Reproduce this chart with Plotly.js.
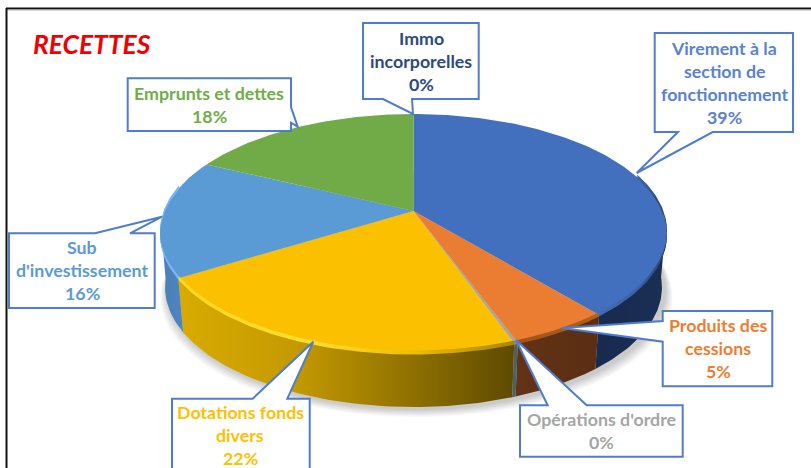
<!DOCTYPE html>
<html><head><meta charset="utf-8">
<script src="https://cdn.plot.ly/plotly-3.0.1.min.js"></script>
<style>html,body{margin:0;padding:0;background:#fff}#c{width:811px;height:468px}</style>
</head><body><div id="c"></div>
<script>
// ---- data ----
const categories = ["Virement à la section de fonctionnement","Produits des cessions","Opérations d'ordre","Dotations fonds divers","Sub d'investissement","Emprunts et dettes","Immo incorporelles"];
const values = [39.0, 5.4, 0.2, 21.6, 16.0, 17.8, 0.0];
const labelLines = [["Virement à la","section de","fonctionnement"],["Produits des","cessions"],["Opérations d'ordre"],["Dotations fonds","divers"],["Sub","d'investissement"],["Emprunts et dettes"],["Immo","incorporelles"]];
const titleText = "RECETTES";

// ---- styles ----
const topColors = ["#4270BE","#EA7D31","#A5A5A5","#FBC000","#5B9BD5","#70AB47","#264478"];
const textColors = ["#5A82CF","#ED7D31","#A5A5A5","#FFC000","#5B9BD5","#70AD47","#2B4A80"];
const sideStops = [
  [[0,"#182A4E"],[1,"#1B2E54"]],
  [[0,"#623316"],[1,"#5B2D12"]],
  [[0,"#4F5E68"],[1,"#4F5E68"]],
  [[0,"#D9AB00"],[0.35,"#C49A00"],[0.7,"#8E7000"],[1,"#5E4A00"]],
  [[0,"#4A7FB6"],[1,"#4F86C0"]],
  [[0,"#4A7330"],[1,"#4A7330"]],
  [[0,"#1E3560"],[1,"#1E3560"]]];
const bevelStops = [
  [[0,"#3F6AB4"],[0.6,"#3A62A8"],[1,"#24406E"]],
  [[0,"#A05418"],[1,"#B06020"]],
  [[0,"#8A8A8A"],[1,"#8A8A8A"]],
  [[0,"#FFD820"],[0.4,"#FFDD30"],[0.7,"#F2BC00"],[1,"#A98500"]],
  [[0,"#78B6F2"],[1,"#78B6F2"]],
  [[0,"#70AB47"],[1,"#70AB47"]],
  [[0,"#264478"],[1,"#264478"]]];

// ---- perspective pie geometry ----
const cx=413.5, cy=211, A=249, B=115.3, P=0.188, DEPTH=54, SHRINK=0.98;
function pt(deg,lvl,extra){
  const t=deg*Math.PI/180, s=Math.sin(t), c=Math.cos(t), w=1+P*c;
  let X=A*s/w, Y=-B*c/w;
  if(lvl){X*=SHRINK; Y+=DEPTH;}
  return [cx+X, cy+Y+(extra||0)];
}
function arc(a,b,lvl,extra){
  const out=[], n=Math.max(2,Math.ceil(Math.abs(b-a)));
  for(let i=0;i<=n;i++) out.push(pt(a+(b-a)*i/n,lvl,extra));
  return out;
}
function poly(pts,color,extra){
  return Object.assign({type:"scatter",mode:"lines",x:pts.map(p=>p[0]),y:pts.map(p=>p[1]),
    fill:"toself",fillcolor:color,line:{width:0,color:color},hoverinfo:"skip",showlegend:false},extra||{});
}
const total=values.reduce((a,b)=>a+b,0);
const traces=[];

// soft shadow below the pie
const full=arc(0,360,1);
for(let k=9;k>=1;k--){
  const pts=full.map(p=>[cx+(p[0]-cx)*(1+k*0.0035)+3, p[1]+k*0.9+2]);
  traces.push(poly(pts,"rgba(0,0,0,0.022)"));
}
// sides
let acc=0; const spans=[];
values.forEach(v=>{const s=acc/total*360; acc+=v; spans.push([s,acc/total*360]);});
spans.forEach((sp,i)=>{
  const a=Math.max(sp[0],96), b=Math.min(sp[1],264);
  if(b<=a) return;
  const pts=arc(a,b,0).concat(arc(b,a,1));
  pts.push(pts[0]);
  traces.push(poly(pts,topColors[i],{fillgradient:{type:"horizontal",colorscale:sideStops[i]}}));
});
// tops
spans.forEach((sp,i)=>{
  if(sp[1]<=sp[0]) return;
  const pts=[[cx,cy]].concat(arc(sp[0],sp[1],0)); pts.push([cx,cy]);
  traces.push(poly(pts,topColors[i]));
});
// bevel along the front rim
spans.forEach((sp,i)=>{
  const a=Math.max(sp[0],72), b=Math.min(sp[1],282);
  if(b<=a||i===5) return;
  const pts=arc(a,b,0,-2.5).concat(arc(b,a,0,1.5)); pts.push(pts[0]);
  traces.push(poly(pts,topColors[i],{fillgradient:{type:"horizontal",colorscale:bevelStops[i]}}));
});

// ---- callout geometry: outlines in pixels, [text centre x, text centre y] ----
const calloutPaths=[
  "M654.7 33 H793 V132 H712.7 L636.7 173 L678 132 H654.7 Z",
  "M662.7 311 H772.3 V386.3 H662.7 V341.7 L561.7 328 L662.7 321 Z",
  "M520 405.3 H547.7 L516 340 L586.7 405.3 H682.7 V456.7 H520 Z",
  "M172 398.7 H252.7 L313.3 341.7 L287.3 398.7 H309.7 V480 H172 Z",
  "M9 233.3 H95 L162 216.7 L130 233.3 H154.7 V308 H9 Z",
  "M127.7 78.3 H291 V107 L297.7 126.7 L291 122.7 V131 H127.7 Z",
  "M363 23 H478.7 V99 H412 L413 114 L383 99 H363 Z"];
const textCentres=[[724,82],[718,348],[601,430],[240,435],[82,269.5],[209,104],[421,60.5]];
const LINE=23;
const shapes=[
  {type:"line",xref:"x",yref:"y",x0:6.5,x1:6.5,y0:8,y1:468,line:{color:"#111",width:2}},
  {type:"line",xref:"x",yref:"y",x0:6,x1:811,y0:8.5,y1:8.5,line:{color:"#111",width:2}},
  {type:"line",xref:"x",yref:"y",x0:8,x1:811,y0:10,y1:10,line:{color:"#aaa",width:1}}
];
calloutPaths.forEach(d=>shapes.push({type:"path",xref:"x",yref:"y",path:d,fillcolor:"#fff",line:{color:"#4F7CCB",width:2},layer:"above"}));

const annotations=[{xref:"x",yref:"y",x:92,y:43.5,text:titleText,showarrow:false,xanchor:"center",yanchor:"middle",
  font:{family:"Lato",size:26.4,color:"#F00000",weight:700,style:"italic"}}];
categories.forEach((c,i)=>{
  const lines=labelLines[i].concat([Math.round(values[i])+"%"]);
  lines.forEach((t,j)=>annotations.push({xref:"x",yref:"y",x:textCentres[i][0],
    y:textCentres[i][1]+(j-(lines.length-1)/2)*LINE,text:t,showarrow:false,xanchor:"center",yanchor:"middle",
    font:{family:"Lato",size:17.8,color:textColors[i],weight:700}}));
});

Plotly.newPlot("c",traces,{
  width:811,height:468,margin:{l:0,r:0,t:0,b:0},paper_bgcolor:"#fff",plot_bgcolor:"#fff",showlegend:false,
  xaxis:{range:[0,811],visible:false,fixedrange:true},
  yaxis:{range:[468,0],visible:false,fixedrange:true},
  shapes:shapes,annotations:annotations
},{displayModeBar:false,staticPlot:true});
</script></body></html>
